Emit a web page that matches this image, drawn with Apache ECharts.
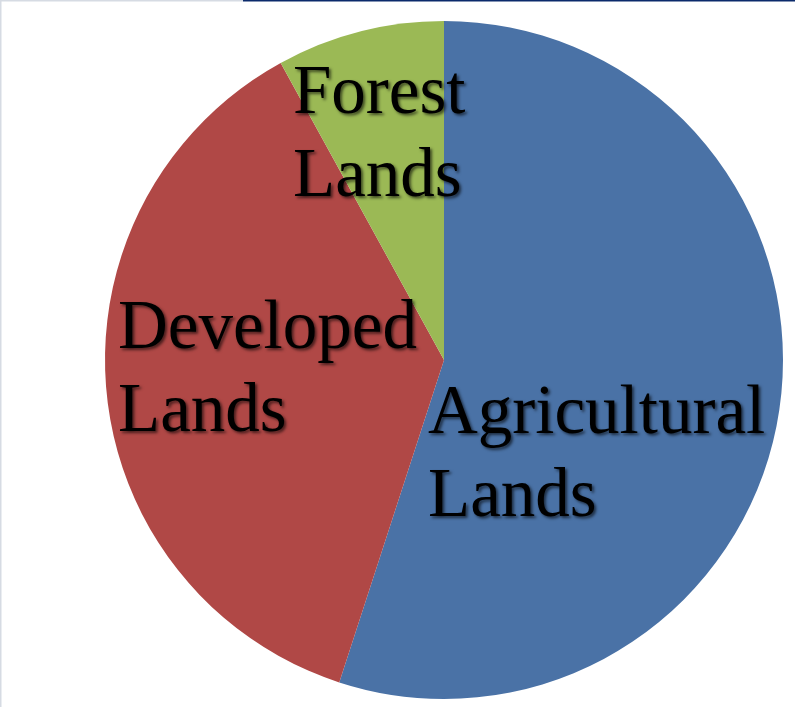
<!DOCTYPE html>
<html>
<head>
<meta charset="utf-8">
<script src="https://cdn.jsdelivr.net/npm/echarts@6/dist/echarts.min.js"></script>
<style>
html,body{margin:0;padding:0;background:#fff;}
#chart{width:795px;height:707px;}
</style>
</head>
<body>
<div id="chart"></div>
<script>
const categories = ['Agricultural Lands', 'Developed Lands', 'Forest Lands'];
const values = [55, 37, 8];
const colors = ['#4A72A6', '#B04846', '#9BB955'];
// label anchor (left, top) per slice
const labelPos = [[428, 373], [118, 288], [293, 53]];

const chart = echarts.init(document.getElementById('chart'), null, {renderer: 'canvas'});
chart.setOption({
  backgroundColor: '#ffffff',
  animation: false,
  graphic: [
    {type: 'line', shape: {x1: 0, y1: 0.5, x2: 243, y2: 0.5}, style: {stroke: '#d6dbe3', lineWidth: 2}},
    {type: 'line', shape: {x1: 243, y1: 0.5, x2: 795, y2: 0.5}, style: {stroke: '#0b2a6b', lineWidth: 2}},
    {type: 'line', shape: {x1: 0.5, y1: 0, x2: 0.5, y2: 707}, style: {stroke: '#d6dbe3', lineWidth: 2}}
  ],
  series: [{
    type: 'pie',
    center: [444, 360],
    radius: 339,
    startAngle: 90,
    clockwise: true,
    itemStyle: {borderWidth: 0},
    labelLine: {show: false},
    label: {
      show: true,
      position: 'inside',
      formatter: p => p.name.replace(' ', '\n'),
      color: '#000',
      fontFamily: 'Liberation Serif',
      fontSize: 69,
      lineHeight: 83,
      align: 'left',
      textShadowColor: 'rgba(0,0,0,0.6)',
      textShadowBlur: 3,
      textShadowOffsetX: 2,
      textShadowOffsetY: 2
    },
    labelLayout: p => ({
      x: labelPos[p.dataIndex][0],
      y: labelPos[p.dataIndex][1],
      align: 'left',
      verticalAlign: 'top'
    }),
    data: categories.map((c, i) => ({name: c, value: values[i], itemStyle: {color: colors[i]}}))
  }]
});
</script>
</body>
</html>
